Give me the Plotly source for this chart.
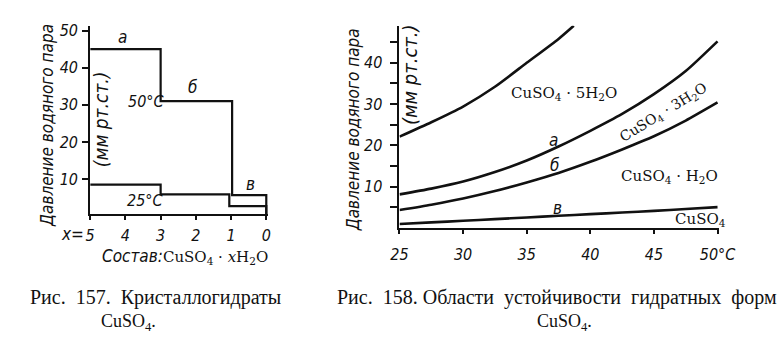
import plotly.graph_objects as go

W, H = 778, 351

# ---------------- Fig. 157 data (left) ----------------
comp_50 = [5, 3, 3, 0.97, 0.97, 0, 0]
press_50 = [45, 45, 31, 31, 5.7, 5.7, 0]
comp_25 = [5, 3, 3, 1.05, 1.05, 0, 0]
press_25 = [8.5, 8.5, 5.9, 5.9, 2.7, 2.7, 0]
comp_ticks = [5, 4, 3, 2, 1, 0]
comp_tick_text = ["5", "4", "3", "2", "1", "0"]
left_press_ticks = [10, 20, 30, 40, 50]

# ---------------- Fig. 158 data (right) ----------------
temps_top = [25, 27.5, 30, 32.5, 35, 37.5, 38.7]
press_top = [22.1, 25.6, 29.4, 34.2, 40.0, 45.8, 49.0]
temps = [25, 27.5, 30, 32.5, 35, 37.5, 40, 42.5, 45, 47.5, 50]
press_a = [8.1, 9.5, 11.2, 13.5, 16.3, 19.7, 23.5, 27.6, 32.4, 38.0, 45.2]
press_b = [4.3, 5.6, 7.1, 8.9, 11.0, 13.3, 16.0, 19.0, 22.2, 26.0, 30.4]
press_v = [0.9, 1.3, 1.7, 2.1, 2.5, 2.9, 3.3, 3.7, 4.1, 4.55, 5.0]
temp_ticks = [25, 30, 35, 40, 45, 50]
temp_tick_text = ["25", "30", "35", "40", "45", "50°C"]
right_press_ticks = [5, 10, 15, 20, 25, 30, 35, 40, 45]
right_press_text = ["", "10", "", "20", "", "30", "", "40", ""]

INK = "#111111"
NARROW = "Liberation Sans Narrow, DejaVu Sans Condensed, Arial Narrow, Roboto, sans-serif"
SERIF = "Liberation Serif, Times New Roman, serif"
WIDESERIF = "DejaVu Serif, Liberation Serif, serif"


def fx(px):
    return px / W


def fy(py):
    return 1 - py / H


fig = go.Figure()

line_l = dict(color=INK, width=2.2)
fig.add_trace(go.Scatter(x=comp_50, y=press_50, mode="lines", line=line_l,
                         xaxis="x", yaxis="y", showlegend=False, hoverinfo="skip"))
fig.add_trace(go.Scatter(x=comp_25, y=press_25, mode="lines", line=line_l,
                         xaxis="x", yaxis="y", showlegend=False, hoverinfo="skip"))

line_r = dict(color=INK, width=2.6, shape="spline", smoothing=0.6)
for xs, ys in [(temps_top, press_top), (temps, press_a), (temps, press_b), (temps, press_v)]:
    fig.add_trace(go.Scatter(x=xs, y=ys, mode="lines", line=line_r,
                             xaxis="x2", yaxis="y2", showlegend=False, hoverinfo="skip"))

tickfont = dict(family=NARROW, size=16, color=INK, style="italic")
axis_common = dict(showgrid=False, zeroline=False, showline=True, linecolor=INK,
                   linewidth=2, ticks="outside", tickcolor=INK, tickwidth=1.5,
                   tickfont=tickfont, fixedrange=True)

fig.update_layout(
    width=W, height=H,
    margin=dict(l=0, r=0, t=0, b=0),
    paper_bgcolor="white", plot_bgcolor="white",
    xaxis=dict(domain=[fx(84), fx(268)], range=[5, -0.05], anchor="y",
               tickmode="array", tickvals=comp_ticks, ticktext=comp_tick_text,
               ticklen=4, ticklabelstandoff=2, **axis_common),
    yaxis=dict(domain=[fy(212), fy(21)], range=[0.6, 51.3], anchor="x",
               tickmode="array", tickvals=left_press_ticks,
               ticklen=6, ticklabelstandoff=1, **axis_common),
    xaxis2=dict(domain=[fx(404), fx(735)], range=[25, 50.15], anchor="y2",
                tickmode="array", tickvals=temp_ticks, ticktext=temp_tick_text,
                ticklen=4, ticklabelstandoff=7, **axis_common),
    yaxis2=dict(domain=[fy(226), fy(21)], range=[0, 49], anchor="x2",
                tickmode="array", tickvals=right_press_ticks, ticktext=right_press_text,
                ticklen=7, ticklabelstandoff=5, **axis_common),
)

ann = []


def add(text, x, y, size=16, family=NARROW, italic=False, angle=0,
        xref="paper", yref="paper", xanchor="center", yanchor="middle"):
    ann.append(dict(text=text, x=x, y=y, xref=xref, yref=yref, showarrow=False,
                    xanchor=xanchor, yanchor=yanchor, textangle=angle,
                    font=dict(family=family, size=size, color=INK,
                              style="italic" if italic else "normal")))


# ----- left chart texts -----
add("Давление водяного пара", fx(40), fy(122), size=17, italic=True, angle=-90)
add("(мм рт.ст.)", fx(96), fy(116), size=19, italic=True, angle=-90)
add("а", 4.09, 48.2, size=17, italic=True, xref="x", yref="y")
add("б", 2.09, 34.8, size=17, italic=True, xref="x", yref="y")
add("в", 0.44, 8.6, size=17, italic=True, xref="x", yref="y")
add("50°C", 3.41, 30.9, size=16, italic=True, xref="x", yref="y")
add("25°C", 3.43, 4.3, size=16, italic=True, xref="x", yref="y")
add("x=", fx(80), fy(232), size=17, italic=True, xanchor="right")
add("Состав:<span style=\"font-family:'DejaVu Serif',serif;font-style:normal;font-size:15px\">"
    "CuSO<sub>4</sub> · <i>x</i>H<sub>2</sub>O</span>",
    fx(182), fy(255), size=17, italic=True)

# ----- right chart texts -----
add("Давление водяного пара", fx(356), fy(127), size=17, italic=True, angle=-90)
add("(мм рт.ст.)", fx(415), fy(71), size=20, italic=True, angle=-90)
add("CuSO<sub>4</sub> · 5H<sub>2</sub>O", 37.96, 32.6, size=15, family=WIDESERIF,
    xref="x2", yref="y2")
add("а", 37.08, 21.4, size=17, italic=True, xref="x2", yref="y2")
add("б", 37.2, 15.2, size=17, italic=True, xref="x2", yref="y2")
add("CuSO<sub>4</sub> · 3H<sub>2</sub>O", 45.74, 27.9, size=14, family=WIDESERIF,
    angle=-31.6, xref="x2", yref="y2")
add("CuSO<sub>4</sub> · H<sub>2</sub>O", 46.2, 12.4, size=15, family=WIDESERIF,
    xref="x2", yref="y2")
add("в", 37.4, 4.8, size=17, italic=True, xref="x2", yref="y2")
add("CuSO<sub>4</sub>", 48.7, 2.1, size=15, family=WIDESERIF, xref="x2", yref="y2")

# ----- captions -----
add("Рис.  157.  Кристаллогидраты", fx(20), fy(310), size=20, family=SERIF,
    xanchor="left", yanchor="bottom")
add("CuSO<sub>4</sub>.", fx(124), fy(308), size=18, family=SERIF, yanchor="top")
add("Рис.  158. Области  устойчивости  гидратных  форм", fx(337), fy(310), size=20,
    family=SERIF, xanchor="left", yanchor="bottom")
add("CuSO<sub>4</sub>.", fx(575), fy(308), size=18, family=SERIF, yanchor="top")

fig.update_layout(annotations=ann)

fig.write_html("out.html")
